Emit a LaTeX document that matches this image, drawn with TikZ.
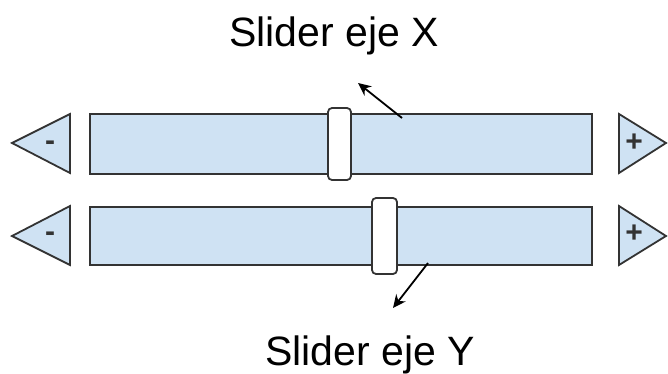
\documentclass[tikz,border=0pt]{standalone}
\usepackage{fontspec}
\setmainfont{Liberation Sans}
\usetikzlibrary{arrows.meta}
\definecolor{barfill}{HTML}{CFE2F3}
\definecolor{edge}{HTML}{333333}
\begin{document}
\begin{tikzpicture}[x=1pt,y=-1pt,
  track/.style={draw=edge,fill=barfill,line width=1.8pt,minimum width=502pt,inner sep=0pt,outer sep=0pt},
  knob/.style={draw=edge,fill=white,line width=1.8pt,rounded corners=4pt,inner sep=0pt,outer sep=0pt},
  button/.style={draw=edge,fill=barfill,line width=1.8pt,line join=miter},
  sign/.style={font=\fontsize{30}{30}\selectfont\bfseries,text=edge,inner sep=0pt},
  caption/.style={font=\fontsize{41}{41}\selectfont,text=black,inner sep=0pt,anchor=base},
  pointer/.style={draw=black,line width=1.8pt,-{Stealth[length=13pt,width=12pt]}}]
\useasboundingbox (0,0) rectangle (668,374);

% captions
\node[caption] (capx) at (334,47) {Slider eje X};
\node[caption] (capy) at (370,365) {Slider eje Y};

% decrement buttons
\draw[button] (12,143) -- (70,114) -- (70,173) -- cycle;
\draw[button] (12,236) -- (70,206) -- (70,265) -- cycle;
\node[sign] (minx) at (50,146) {-};
\node[sign] (miny) at (50,237) {-};

% increment buttons
\draw[button] (619,114) -- (666,143) -- (619,173) -- cycle;
\draw[button] (619,206) -- (666,236) -- (619,265) -- cycle;
\node[sign] (plusx) at (634,143) {+};
\node[sign] (plusy) at (634,234) {+};

% tracks
\node[track,minimum height=60pt] (barx) at (341,144) {};
\node[track,minimum height=58pt] (bary) at (341,236) {};

% thumbs
\node[knob,minimum width=23pt,minimum height=72pt] (knobx) at (339.5,144) {};
\node[knob,minimum width=25pt,minimum height=76pt] (knoby) at (384.5,236) {};

% pointers
\coordinate (px0) at (402,118);
\coordinate (px1) at (358,83);
\coordinate (py0) at (428,263);
\coordinate (py1) at (393,308);
\draw[pointer] (px0) -- (px1);
\draw[pointer] (py0) -- (py1);
\end{tikzpicture}
\end{document}
